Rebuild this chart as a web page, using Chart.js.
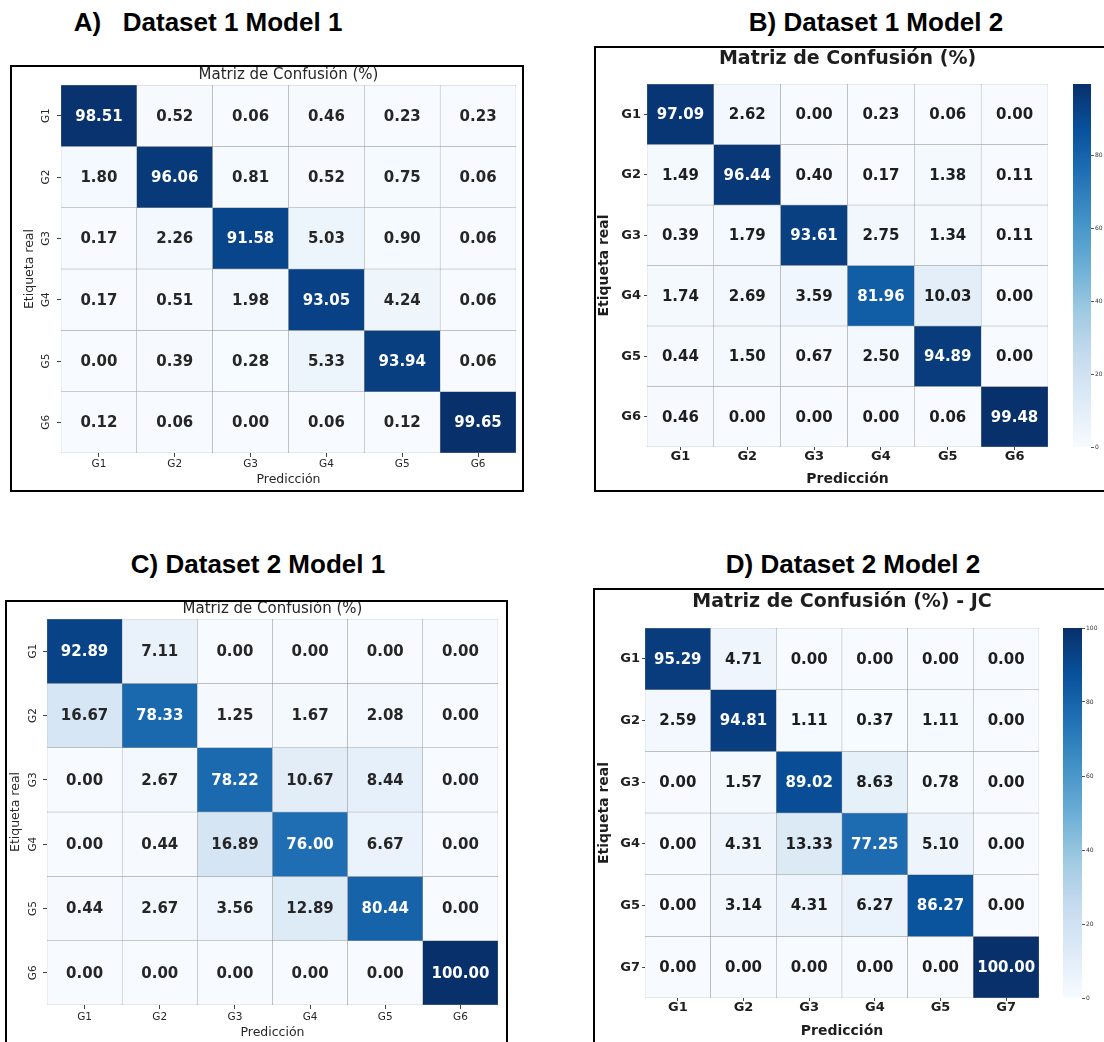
<!DOCTYPE html>
<html>
<head>
<meta charset="utf-8">
<script src="https://cdn.jsdelivr.net/npm/chart.js@4.4.0/dist/chart.umd.min.js"></script>
<style>
  html, body { margin: 0; padding: 0; background: #fff; }
  body { width: 1104px; height: 1042px; position: relative; overflow: hidden; }
  .hd { position: absolute; width: 400px; text-align: center; white-space: pre;
        font-family: "Liberation Sans", Arial, sans-serif; font-weight: bold;
        font-size: 26px; line-height: 26px; color: #000; }
  .box { position: absolute; border: 2px solid #000; box-sizing: border-box; }
  canvas { position: absolute; }
</style>
</head>
<body>
<div class="hd" style="left:8px;top:9px">A)   Dataset 1 Model 1</div>
<div class="hd" style="left:676px;top:9px">B) Dataset 1 Model 2</div>
<div class="hd" style="left:58px;top:551px">C) Dataset 2 Model 1</div>
<div class="hd" style="left:653px;top:551px">D) Dataset 2 Model 2</div>

<div class="box" style="left:10px;top:65px;width:514px;height:427px"></div>
<div class="box" style="left:594px;top:46px;width:520px;height:446px"></div>
<div class="box" style="left:5px;top:600px;width:503px;height:460px"></div>
<div class="box" style="left:593px;top:588px;width:520px;height:470px"></div>

<canvas id="cA" width="509" height="423" style="left:12px;top:67px"></canvas>
<canvas id="cB" width="470" height="442" style="left:596px;top:48px"></canvas>
<canvas id="cbB" width="31" height="373" style="left:1073px;top:79px"></canvas>
<canvas id="cC" width="499" height="440" style="left:7px;top:602px"></canvas>
<canvas id="cD" width="462" height="452" style="left:595px;top:590px"></canvas>
<canvas id="cbD" width="41" height="380" style="left:1063px;top:623px"></canvas>

<script>
// ---- data ----
const groups6 = ['G1', 'G2', 'G3', 'G4', 'G5', 'G6'];
const groupsD = ['G1', 'G2', 'G3', 'G4', 'G5', 'G7'];

const valuesA = [
  [98.51, 0.52, 0.06, 0.46, 0.23, 0.23],
  [1.80, 96.06, 0.81, 0.52, 0.75, 0.06],
  [0.17, 2.26, 91.58, 5.03, 0.90, 0.06],
  [0.17, 0.51, 1.98, 93.05, 4.24, 0.06],
  [0.00, 0.39, 0.28, 5.33, 93.94, 0.06],
  [0.12, 0.06, 0.00, 0.06, 0.12, 99.65]
];
const valuesB = [
  [97.09, 2.62, 0.00, 0.23, 0.06, 0.00],
  [1.49, 96.44, 0.40, 0.17, 1.38, 0.11],
  [0.39, 1.79, 93.61, 2.75, 1.34, 0.11],
  [1.74, 2.69, 3.59, 81.96, 10.03, 0.00],
  [0.44, 1.50, 0.67, 2.50, 94.89, 0.00],
  [0.46, 0.00, 0.00, 0.00, 0.06, 99.48]
];
const valuesC = [
  [92.89, 7.11, 0.00, 0.00, 0.00, 0.00],
  [16.67, 78.33, 1.25, 1.67, 2.08, 0.00],
  [0.00, 2.67, 78.22, 10.67, 8.44, 0.00],
  [0.00, 0.44, 16.89, 76.00, 6.67, 0.00],
  [0.44, 2.67, 3.56, 12.89, 80.44, 0.00],
  [0.00, 0.00, 0.00, 0.00, 0.00, 100.00]
];
const valuesD = [
  [95.29, 4.71, 0.00, 0.00, 0.00, 0.00],
  [2.59, 94.81, 1.11, 0.37, 1.11, 0.00],
  [0.00, 1.57, 89.02, 8.63, 0.78, 0.00],
  [0.00, 4.31, 13.33, 77.25, 5.10, 0.00],
  [0.00, 3.14, 4.31, 6.27, 86.27, 0.00],
  [0.00, 0.00, 0.00, 0.00, 0.00, 100.00]
];
const cbTicksStep = 20;

// ---- colour map (matplotlib "Blues") ----
const BLUES = ['#f7fbff', '#deebf7', '#c6dbef', '#9ecae1', '#6baed6', '#4292c6', '#2171b5', '#08519c', '#08306b'];
const hex = h => [1, 3, 5].map(k => parseInt(h.substr(k, 2), 16));
function blues(t) {
  t = Math.max(0, Math.min(1, t));
  const p = t * (BLUES.length - 1);
  const i = Math.min(Math.floor(p), BLUES.length - 2);
  const f = p - i;
  const a = hex(BLUES[i]), b = hex(BLUES[i + 1]);
  const c = a.map((v, k) => Math.round(v + (b[k] - v) * f));
  return `rgb(${c[0]},${c[1]},${c[2]})`;
}
function textColor(rgb, dark) {
  const c = rgb.match(/\d+/g).map(Number).map(v => {
    v /= 255;
    return v <= 0.03928 ? v / 12.92 : Math.pow((v + 0.055) / 1.055, 2.4);
  });
  const lum = 0.2126 * c[0] + 0.7152 * c[1] + 0.0722 * c[2];
  return lum > 0.408 ? dark : '#ffffff';
}

Chart.defaults.font.family = "'DejaVu Sans', sans-serif";

const cellText = {
  id: 'cellText',
  afterDatasetsDraw(chart, args, opts) {
    const ctx = chart.ctx;
    ctx.save();
    ctx.font = opts.font;
    ctx.textAlign = 'center';
    ctx.textBaseline = 'middle';
    chart.data.datasets.forEach((ds, i) => {
      chart.getDatasetMeta(i).data.forEach((bar, j) => {
        ctx.fillStyle = textColor(ds.backgroundColor[j], opts.dark);
        ctx.fillText(ds.values[j].toFixed(2), bar.x, (bar.y + bar.base) / 2 + 1);
      });
    });
    ctx.restore();
  }
};

function heatmap(id, rows, cols, values, p) {
  const flat = values.flat();
  const vmin = Math.min(...flat), vmax = Math.max(...flat);
  const datasets = rows.map((r, i) => ({
    label: r,
    values: values[i],
    data: cols.map(() => [i, i + 1]),
    backgroundColor: values[i].map(v => blues((v - vmin) / (vmax - vmin))),
    borderColor: '#9c9c9c',
    borderWidth: 0.5,
    borderSkipped: false,
    barPercentage: 1,
    categoryPercentage: 1
  }));
  const weight = p.bold ? 'bold' : 'normal';
  new Chart(document.getElementById(id), {
    type: 'bar',
    data: { labels: cols, datasets },
    options: {
      responsive: false,
      animation: false,
      devicePixelRatio: 1,
      layout: { padding: { left: 0, right: p.padRight, top: 0, bottom: 0 } },
      plugins: {
        legend: { display: false },
        tooltip: { enabled: false },
        title: {
          display: true, text: p.title, fullSize: false, color: p.dark,
          font: { size: p.titleSize, weight: p.bold ? 'bold' : 'normal', lineHeight: p.titleLH },
          padding: p.titlePad
        },
        cellText: { font: 'bold ' + p.cellSize + 'px "DejaVu Sans"', dark: p.dark }
      },
      scales: {
        x: {
          stacked: true,
          grid: { offset: false, drawOnChartArea: false, tickLength: p.xTick, color: '#444' },
          border: { display: false },
          ticks: { color: p.dark, padding: p.xTickPad, font: { size: p.tickSize, weight, lineHeight: 1 } },
          title: {
            display: true, text: 'Predicción', color: p.dark,
            font: { size: p.axisSize, weight, lineHeight: 1.2 },
            padding: { top: 0, bottom: p.xTitlePad }
          },
          afterFit(s) { s.height = p.xH; }
        },
        y: {
          type: 'linear', min: 0, max: rows.length, reverse: true, stacked: false,
          afterBuildTicks(s) { s.ticks = rows.map((_, i) => ({ value: i + 0.5 })); },
          grid: { drawOnChartArea: false, tickLength: p.yTick, color: '#444' },
          border: { display: false },
          ticks: {
            callback: (v, i) => rows[i],
            color: p.dark, padding: p.yTickPad,
            minRotation: p.rotate ? 90 : 0, maxRotation: p.rotate ? 90 : 0,
            crossAlign: p.rotate ? 'center' : 'near',
            font: { size: p.tickSize, weight, lineHeight: 1 }
          },
          title: {
            display: true, text: 'Etiqueta real', color: p.dark,
            font: { size: p.axisSize, weight, lineHeight: 1.2 },
            padding: { top: p.yTitlePad, bottom: 0 }
          },
          afterFit(s) { s.width = p.yW; }
        }
      }
    },
    plugins: [cellText]
  });
  return vmax;
}

function colorbar(id, vmax, axisW) {
  new Chart(document.getElementById(id), {
    type: 'bar',
    data: {
      labels: [''],
      datasets: [{
        data: [[0, vmax]],
        backgroundColor(c) {
          const ch = c.chart;
          if (!ch.chartArea) return BLUES[4];
          const ys = ch.scales.y;
          const g = ch.ctx.createLinearGradient(0, ys.getPixelForValue(0), 0, ys.getPixelForValue(vmax));
          BLUES.forEach((col, k) => g.addColorStop(k / (BLUES.length - 1), col));
          return g;
        },
        borderWidth: 0,
        barPercentage: 1,
        categoryPercentage: 1
      }]
    },
    options: {
      responsive: false,
      animation: false,
      devicePixelRatio: 1,
      layout: { padding: { left: 0, right: 0, top: 5, bottom: 5 } },
      plugins: { legend: { display: false }, tooltip: { enabled: false } },
      scales: {
        x: { display: false },
        y: {
          position: 'right', min: 0, max: vmax,
          ticks: { stepSize: cbTicksStep, includeBounds: false, color: '#333', padding: 1,
                   font: { size: 6, lineHeight: 1 } },
          grid: { drawOnChartArea: false, tickLength: 3, color: '#555' },
          border: { display: false },
          afterFit(s) { s.width = axisW; }
        }
      }
    }
  });
}

const lightStyle = {
  bold: false, dark: '#262626', titleSize: 15, titleLH: 1.07, cellSize: 15,
  tickSize: 10.5, axisSize: 12.5, rotate: true, xTick: 4, yTick: 4
};
const boldStyle = {
  bold: true, dark: '#1e1e1e', titleSize: 19, titleLH: 1.2, cellSize: 15,
  tickSize: 13, axisSize: 14, rotate: false, xTick: 3, yTick: 3
};

heatmap('cA', groups6, groups6, valuesA, Object.assign({}, lightStyle, {
  title: 'Matriz de Confusión (%)', titlePad: { top: 0, bottom: 2 },
  padRight: 5, yW: 49, xH: 37, yTickPad: 3, xTickPad: 2, yTitlePad: 10.5, xTitlePad: 2.5
}));
const vB = heatmap('cB', groups6, groups6, valuesB, Object.assign({}, boldStyle, {
  title: 'Matriz de Confusión (%)', titlePad: { top: 0, bottom: 13.2 },
  padRight: 18, yW: 51, xH: 43, yTickPad: 3, xTickPad: 0, yTitlePad: 0, xTitlePad: 2.6
}));
heatmap('cC', groups6, groups6, valuesC, Object.assign({}, lightStyle, {
  title: 'Matriz de Confusión (%)', titleLH: 1, titlePad: { top: 0, bottom: 2 },
  padRight: 8, yW: 40, xH: 37, yTickPad: 2, xTickPad: 3, yTitlePad: 1.5, xTitlePad: 1.5
}));
const vD = heatmap('cD', groups6.slice(0, 5).concat('G7'), groupsD, valuesD, Object.assign({}, boldStyle, {
  title: 'Matriz de Confusión (%) - JC', titlePad: { top: 1, bottom: 14.2 },
  padRight: 18, yW: 50, xH: 44, yTickPad: 2, xTickPad: 0.5, yTitlePad: 0.6, xTitlePad: 2.6
}));
colorbar('cbB', vB, 13);
colorbar('cbD', vD, 22);
</script>
</body>
</html>
